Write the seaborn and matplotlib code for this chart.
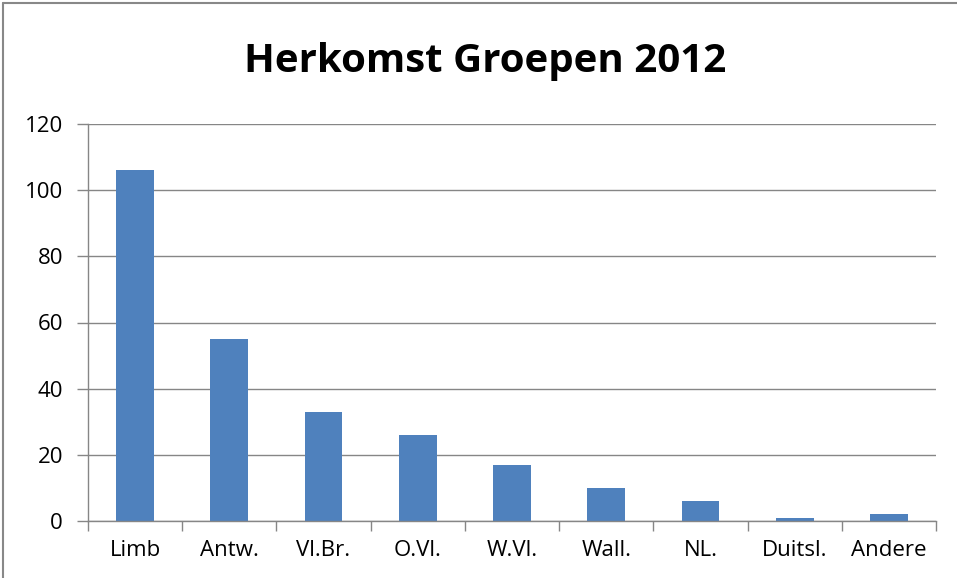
import matplotlib
matplotlib.use("Agg")
import matplotlib.pyplot as plt
from matplotlib.lines import Line2D
import seaborn as sns

categories = ["Limb", "Antw.", "Vl.Br.", "O.Vl.", "W.Vl.", "Wall.", "NL.", "Duitsl.", "Andere"]
values = [106, 55, 33, 26, 17, 10, 6, 1, 2]
yticks = [0, 20, 40, 60, 80, 100, 120]

sns.set_theme(style="white")
plt.rcParams["font.family"] = ["Open Sans", "DejaVu Sans"]

GRID = "#868686"

fig = plt.figure(figsize=(9.57, 5.78), dpi=100, facecolor="white")
ax = fig.add_axes([88 / 957, 1 - 521 / 578, (936 - 88) / 957, (521 - 124) / 578])

sns.barplot(x=categories, y=values, color="#4F81BD", width=0.4, saturation=1,
            linewidth=0, ax=ax)

ax.set_ylim(0, 120)
ax.set_xlim(-0.5, len(categories) - 0.5)
ax.set_yticks(yticks)
ax.set_yticklabels([str(v) for v in yticks], fontsize=16, color="black")
ax.set_xticks(range(len(categories)))
ax.set_xticklabels(categories, fontsize=16, color="black")
ax.set_xticks([i - 0.5 for i in range(len(categories) + 1)], minor=True)
ax.tick_params(axis="x", which="major", bottom=False, length=0, pad=14)
ax.tick_params(axis="x", which="minor", bottom=True, length=7, width=1, color=GRID, direction="out")
ax.tick_params(axis="y", left=True, length=8, width=1, color=GRID, direction="out", pad=10)
ax.yaxis.grid(True, color=GRID, linewidth=1)
ax.set_axisbelow(True)
ax.set_xlabel("")
ax.set_ylabel("")

for side in ["top", "right"]:
    ax.spines[side].set_visible(False)
for side in ["left", "bottom"]:
    ax.spines[side].set_color(GRID)
    ax.spines[side].set_linewidth(1)

fig.text(0.507, 0.893, "Herkomst Groepen 2012", ha="center", va="center",
         fontsize=29, fontweight="bold", color="black")

# outer chart frame
fig.add_artist(Line2D([3 / 957, 3 / 957], [0, 1 - 3 / 578], color="#888888", lw=1.5))
fig.add_artist(Line2D([3 / 957, 1], [1 - 3 / 578, 1 - 3 / 578], color="#888888", lw=1.5))

fig.savefig("out.png", dpi=100, facecolor="white")
